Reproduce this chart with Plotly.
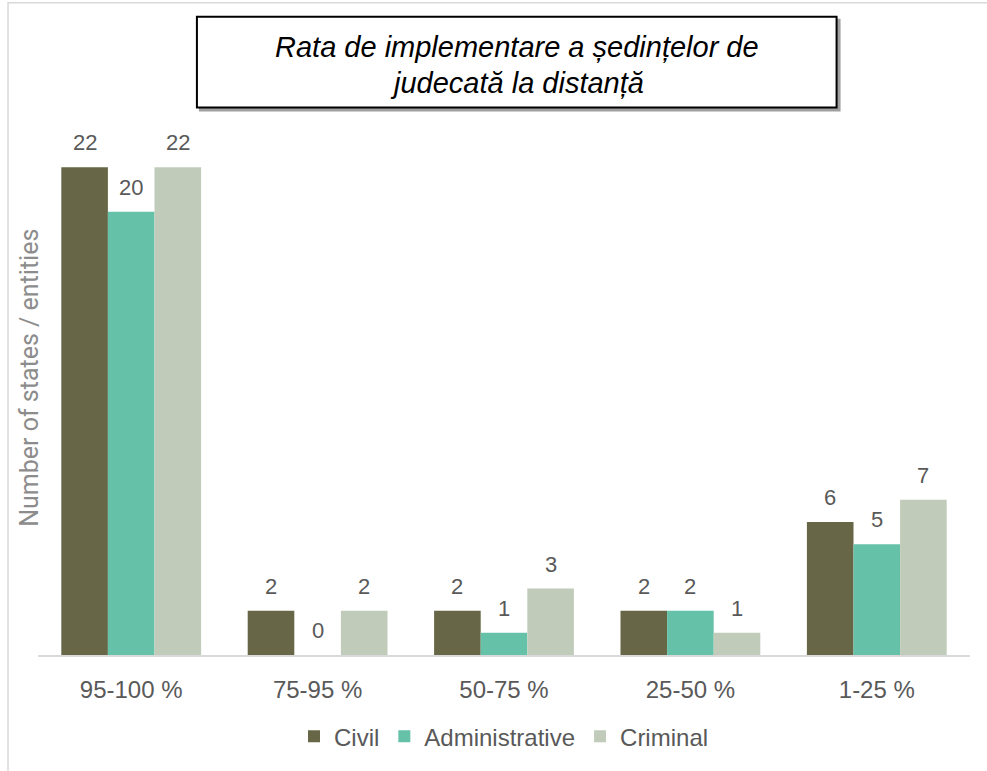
import plotly.graph_objects as go

categories = ["95-100 %", "75-95 %", "50-75 %", "25-50 %", "1-25 %"]
civil = [22, 2, 2, 2, 6]
administrative = [20, 0, 1, 2, 5]
criminal = [22, 2, 3, 1, 7]
series_names = ["Civil", "Administrative", "Criminal"]
series_values = [civil, administrative, criminal]
colors = ["#676747", "#66C1A9", "#C0CCB9"]
title_lines = ["Rata de implementare a ședințelor de", "judecată la distanță"]
y_title = "Number of states / entities"

W, H = 987, 771
L, R, T, B = 38, 16.5, 123.5, 114
gray = "#595959"

fig = go.Figure()
for name, vals, col in zip(series_names, series_values, colors):
    fig.add_trace(go.Bar(x=categories, y=vals, name=name, marker=dict(color=col, line=dict(width=0))))

plot_w = W - L - R
plot_h = H - T - B
cat_px = plot_w / len(categories)
bar_px = cat_px * 0.75 / 3


def px_x(px):
    return (px - L) / plot_w


def px_y(py):
    return (H - B - py) / plot_h


annotations = []
for i, (name, vals) in enumerate(zip(series_names, series_values)):
    for c, v in zip(categories, vals):
        annotations.append(dict(x=c, y=v, xref="x", yref="y", text=str(v), showarrow=False,
                                xshift=(i - 1) * bar_px, yanchor="bottom", yshift=10,
                                font=dict(family="Liberation Sans, Arial", size=22, color=gray)))

for line, cy in zip(title_lines, [47, 83]):
    annotations.append(dict(x=px_x(517), y=px_y(cy), xref="paper", yref="paper",
                            text="<i>" + line + "</i>", showarrow=False, xanchor="center", yanchor="middle",
                            font=dict(family="Liberation Sans, Arial", size=29, color="#000000")))

annotations.append(dict(x=px_x(30), y=px_y(379), xref="paper", yref="paper", text=y_title, showarrow=False,
                        textangle=-90, xanchor="center", yanchor="middle",
                        font=dict(family="Roboto, Liberation Sans", size=25, color="#8C8C8C")))

shapes = [
    # outer border
    dict(type="rect", xref="paper", yref="paper", x0=px_x(8), x1=px_x(995), y0=px_y(780), y1=px_y(3),
         line=dict(color="#D9D9D9", width=1.5), layer="below"),
    # title box shadow
    dict(type="rect", xref="paper", yref="paper", x0=px_x(200), x1=px_x(840), y0=px_y(111), y1=px_y(20),
         line=dict(color="#A0A0A0", width=2), fillcolor="#A0A0A0"),
    # title box
    dict(type="rect", xref="paper", yref="paper", x0=px_x(197), x1=px_x(837), y0=px_y(108), y1=px_y(17),
         line=dict(color="#000000", width=2), fillcolor="#FFFFFF"),
]

fig.update_layout(
    width=W, height=H,
    margin=dict(l=L, r=R, t=T, b=B),
    paper_bgcolor="white", plot_bgcolor="white",
    barmode="group", bargap=0.25, bargroupgap=0,
    font=dict(family="Liberation Sans, Arial", color=gray),
    showlegend=True,
    legend=dict(orientation="h", x=0.5, xanchor="center", y=px_y(739), yanchor="middle",
                font=dict(size=24, color=gray), itemwidth=30, tracegroupgap=0,
                traceorder="normal"),
    xaxis=dict(showline=True, linecolor="#D9D9D9", linewidth=2, ticks="", showgrid=False,
               tickfont=dict(size=24, color=gray), ticklabelstandoff=12),
    yaxis=dict(range=[0, 24], showticklabels=False, showgrid=False, zeroline=False, showline=False),
    annotations=annotations,
    shapes=shapes,
)

fig.write_html("out.html", config={"displayModeBar": False},
               post_script="document.body.style.margin='0';")
